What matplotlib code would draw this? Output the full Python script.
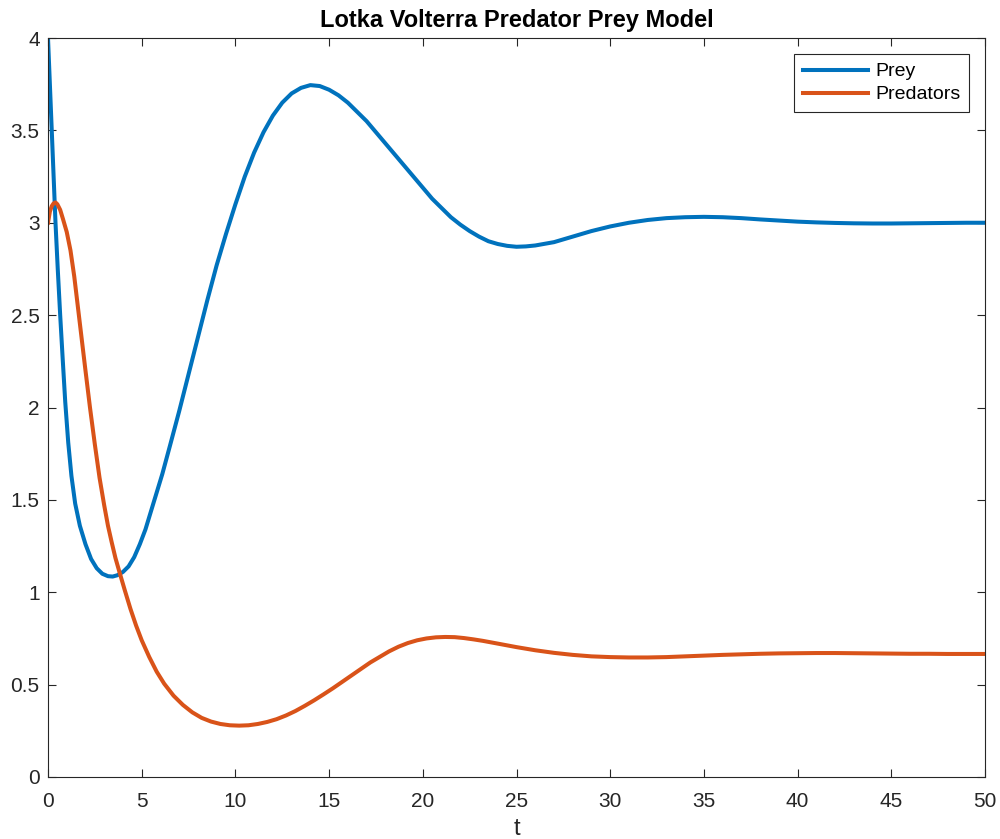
import matplotlib
matplotlib.use('Agg')
import matplotlib.pyplot as plt
from matplotlib.ticker import FuncFormatter

# values
t_prey = [0, 0.1, 0.2, 0.3, 0.4, 0.52, 0.65, 0.78, 0.92, 1.08, 1.25, 1.45, 1.7, 2.0,
          2.3, 2.6, 2.9, 3.2, 3.45, 3.7, 4.0, 4.3, 4.6, 4.9, 5.2, 5.5, 5.8, 6.1,
          6.5, 7.0, 7.5, 8.0, 8.5, 9.0, 9.5, 10.0, 10.5, 11.0, 11.5, 12.0, 12.5,
          13.0, 13.5, 14.0, 14.5, 15.0, 15.5, 16.0, 16.5, 17.0, 17.5, 18.0, 18.5,
          19.0, 19.5, 20.0, 20.5, 21.0, 21.5, 22.0, 22.5, 23.0, 23.5, 24.0, 24.5,
          25.0, 25.5, 26.0, 27.0, 28.0, 29.0, 30.0, 31.0, 32.0, 33.0, 34.0, 35.0,
          36.0, 37.0, 38.0, 39.0, 40.0, 41.0, 42.0, 43.0, 44.0, 45.0, 46.0, 47.0,
          48.0, 49.0, 50.0]
prey = [4.0, 3.75, 3.5, 3.25, 3.0, 2.75, 2.5, 2.27, 2.03, 1.81, 1.63, 1.48, 1.36, 1.26,
        1.18, 1.13, 1.1, 1.087, 1.085, 1.092, 1.11, 1.14, 1.19, 1.26, 1.34, 1.44, 1.54, 1.64,
        1.79, 1.98, 2.18, 2.38, 2.58, 2.77, 2.94, 3.10, 3.25, 3.38, 3.49, 3.58, 3.65,
        3.70, 3.73, 3.745, 3.74, 3.72, 3.69, 3.65, 3.60, 3.55, 3.49, 3.43, 3.37,
        3.31, 3.25, 3.19, 3.13, 3.08, 3.03, 2.99, 2.955, 2.925, 2.90, 2.885, 2.875,
        2.87, 2.872, 2.877, 2.895, 2.925, 2.955, 2.98, 3.0, 3.015, 3.025, 3.03, 3.032,
        3.03, 3.025, 3.018, 3.012, 3.006, 3.002, 2.999, 2.997, 2.996, 2.996, 2.997, 2.998,
        2.999, 3.0, 3.0]

t_pred = [0, 0.1, 0.2, 0.3, 0.4, 0.5, 0.65, 0.8, 1.0, 1.2, 1.4, 1.6, 1.8, 2.0,
          2.24, 2.5, 2.75, 3.0, 3.2, 3.4, 3.6, 3.84, 4.1, 4.4, 4.7, 5.0, 5.4, 5.8,
          6.2, 6.7, 7.2, 7.7, 8.2, 8.7, 9.2, 9.7, 10.2, 10.7, 11.2, 11.7, 12.2, 12.7,
          13.2, 13.7, 14.2, 14.7, 15.2, 15.7, 16.2, 16.7, 17.2, 17.7, 18.2, 18.7,
          19.2, 19.7, 20.2, 20.7, 21.2, 21.7, 22.2, 22.7, 23.2, 24.0, 25.0, 26.0,
          27.0, 28.0, 29.0, 30.0, 31.0, 32.0, 33.0, 34.0, 35.0, 36.0, 37.0, 38.0,
          39.0, 40.0, 41.0, 42.0, 43.0, 44.0, 45.0, 46.0, 47.0, 48.0, 49.0, 50.0]
pred = [3.0, 3.06, 3.09, 3.105, 3.11, 3.1, 3.07, 3.02, 2.95, 2.85, 2.71, 2.54, 2.37, 2.2,
        2.0, 1.8, 1.62, 1.47, 1.36, 1.27, 1.185, 1.10, 1.01, 0.91, 0.82, 0.74, 0.65, 0.57,
        0.505, 0.44, 0.39, 0.35, 0.32, 0.30, 0.287, 0.28, 0.278, 0.28, 0.287, 0.298, 0.313, 0.333,
        0.357, 0.385, 0.415, 0.447, 0.48, 0.515, 0.55, 0.585, 0.62, 0.65, 0.68, 0.705,
        0.725, 0.74, 0.75, 0.756, 0.758, 0.757, 0.752, 0.745, 0.737, 0.722, 0.703, 0.686,
        0.672, 0.661, 0.653, 0.649, 0.647, 0.647, 0.649, 0.653, 0.657, 0.661, 0.664, 0.667,
        0.669, 0.67, 0.671, 0.671, 0.67, 0.669, 0.668, 0.667, 0.667, 0.666, 0.666, 0.666]

plt.rcParams['font.family'] = ['Liberation Sans', 'DejaVu Sans']

fig = plt.figure(figsize=(10, 8.39), dpi=100)
ax = fig.add_axes([0.048, 0.0739, 0.937, 0.8808])

# Plot
ax.plot(t_prey, prey, color='#0072BD', lw=2.9, label='Prey', solid_joinstyle='round')
ax.plot(t_pred, pred, color='#D95319', lw=2.9, label='Predators', solid_joinstyle='round')

ax.set_xlim(0, 50)
ax.set_ylim(0, 4)
ax.set_xticks(range(0, 51, 5))
ax.set_yticks([0, 0.5, 1, 1.5, 2, 2.5, 3, 3.5, 4])
ax.yaxis.set_major_formatter(FuncFormatter(lambda v, p: '%g' % v))

# matlab style box and ticks
for s in ax.spines.values():
    s.set_color('#262626')
    s.set_linewidth(0.8)
ax.tick_params(direction='in', length=6, width=0.8, top=True, right=True,
               colors='#262626', labelsize=15)
ax.tick_params(axis='x', pad=11)
ax.tick_params(axis='y', pad=6)

ax.set_xlabel('t', fontsize=17, color='#262626', labelpad=5)
ax.set_title('Lotka Volterra Predator Prey Model', fontsize=17, fontweight='bold', pad=8)

leg = ax.legend(loc='upper right', fontsize=14, handlelength=3.35, fancybox=False,
                framealpha=1, borderaxespad=0.82, handletextpad=0.36, labelspacing=0.28,
                borderpad=0.45)
leg.get_frame().set_edgecolor('#262626')
leg.get_frame().set_linewidth(0.8)

plt.savefig('out.png', dpi=100)
